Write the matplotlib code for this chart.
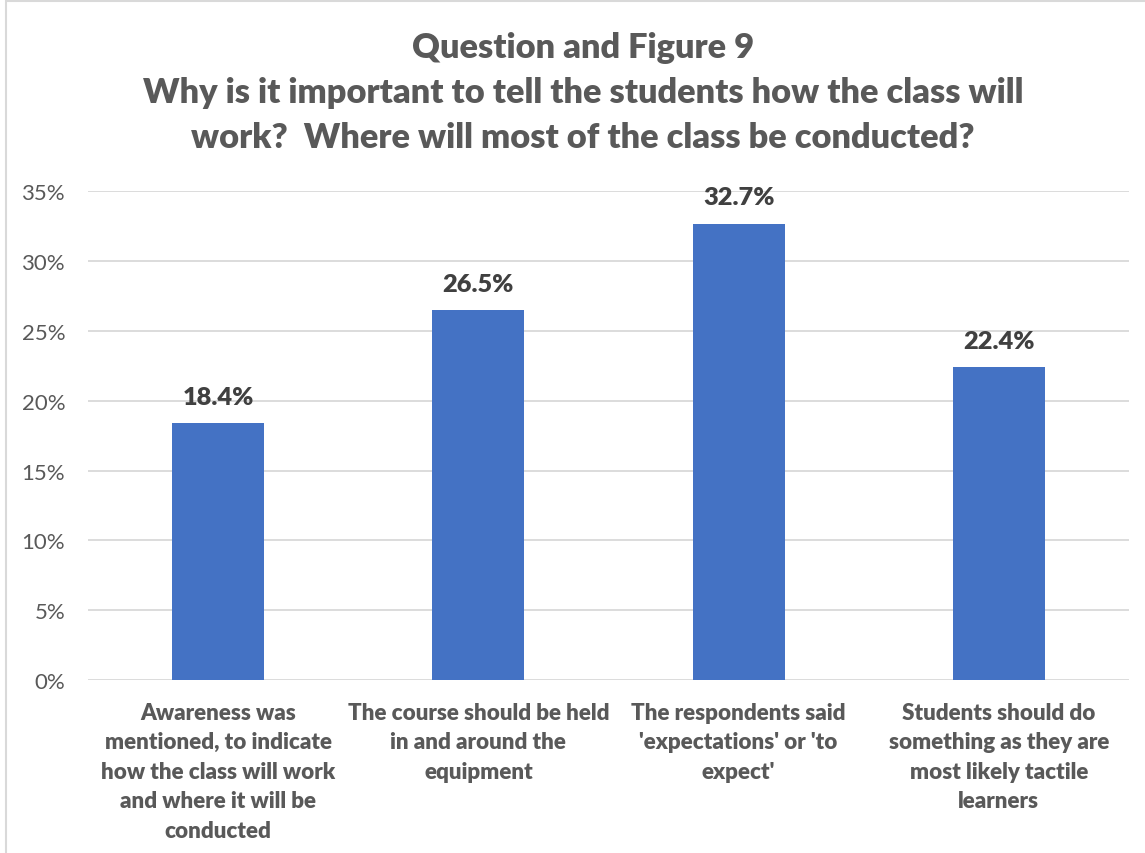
import numpy as np
import matplotlib
matplotlib.use("Agg")
import matplotlib.pyplot as plt
from matplotlib.patches import Rectangle

plt.rcParams['font.family'] = ['Lato', 'DejaVu Sans']

title = "Question and Figure 9\nWhy is it important to tell the students how the class will\nwork?  Where will most of the class be conducted?"
categories = [
    "Awareness was\nmentioned, to indicate\nhow the class will work\nand where it will be\nconducted",
    "The course should be held\nin and around the\nequipment",
    "The respondents said\n'expectations' or 'to\nexpect'",
    "Students should do\nsomething as they are\nmost likely tactile\nlearners",
]
values = [18.4, 26.5, 32.7, 22.4]
yticks = [0, 5, 10, 15, 20, 25, 30, 35]

grey = '#595959'
bar_col = '#4472c4'
grid_col = '#d9d9d9'

fig = plt.figure(figsize=(11.45, 8.54), dpi=100)
ax = fig.add_axes([0.0769, 0.2026, 0.9091, 0.5720])

x = np.arange(len(values))
ax.bar(x, values, width=0.354, color=bar_col, zorder=3)

ax.set_xlim(-0.5, len(values) - 0.5)
ax.set_ylim(0, 35)
ax.set_yticks(yticks)
ax.set_yticklabels([f"{t}%" for t in yticks], fontsize=16, color=grey)
ax.yaxis.grid(True, color=grid_col, linewidth=1.3, zorder=0)
ax.tick_params(axis='y', length=0, pad=16.5)
ax.tick_params(axis='x', length=0, pad=15.5)
ax.set_xticks(x)
ax.set_xticklabels(categories, fontsize=16.1, fontweight='heavy', color=grey,
                   linespacing=1.5)
for s in ax.spines.values():
    s.set_visible(False)

for xi, v in zip(x, values):
    ax.annotate(f"{v:.1f}%", (xi, v), xytext=(0, 11), textcoords='offset points',
                ha='center', va='bottom', fontsize=18.3, fontweight='heavy',
                color='#404040')

fig.text(0.509, 0.963, title, ha='center', va='top', fontsize=24.75,
         fontweight='heavy', color=grey, linespacing=1.5)

# light frame around the chart area
fig.patches.append(Rectangle((6 / 1145, -0.05), 1.2, 1.05 - 2 / 854,
                             transform=fig.transFigure, fill=False,
                             edgecolor=grid_col, linewidth=1.5))

fig.savefig("out.png", dpi=100)
